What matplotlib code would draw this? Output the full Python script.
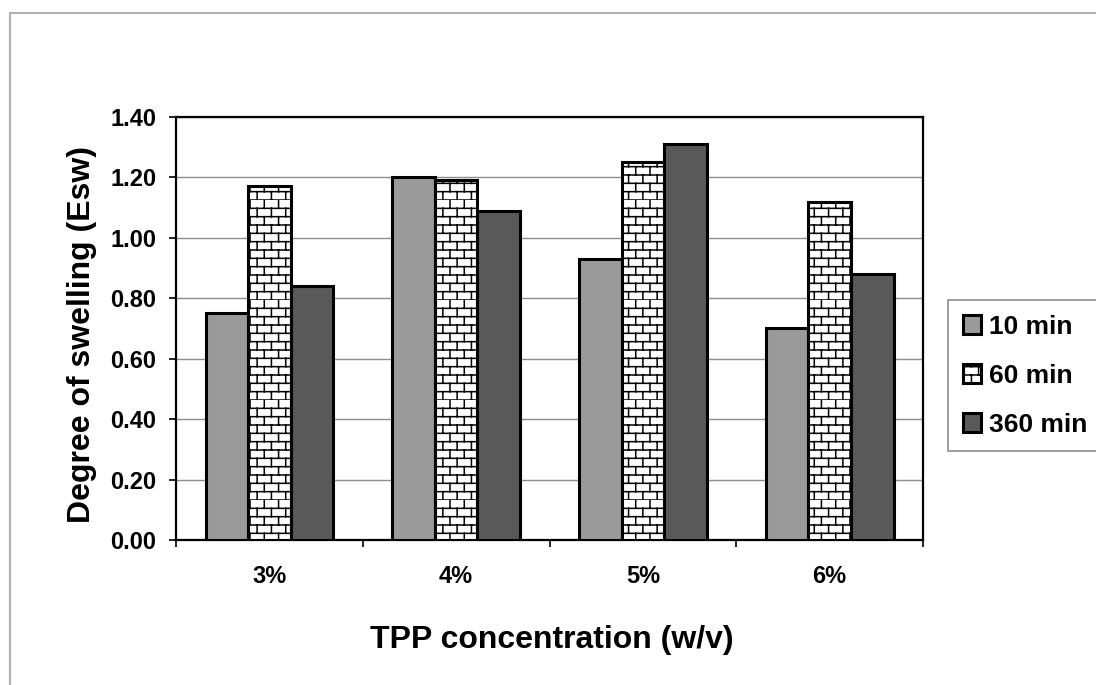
# import libraries
import warnings
import numpy as np
import matplotlib
matplotlib.use('Agg')
import matplotlib.pyplot as plt
import matplotlib.hatch as mhatch
from matplotlib.path import Path
from matplotlib.patches import Rectangle

warnings.simplefilter('ignore')

# swelling data read per TPP concentration
concentrations = ['3%', '4%', '5%', '6%']
series_names = ['10 min', '60 min', '360 min']
swell_10 = [0.75, 1.20, 0.93, 0.70]
swell_60 = [1.17, 1.19, 1.25, 1.12]
swell_360 = [0.84, 1.09, 1.31, 0.88]
y_ticks = [0.0, 0.2, 0.4, 0.6, 0.8, 1.0, 1.2, 1.4]


class BrickHatch(mhatch.HatchPatternBase):
    """running-bond brick pattern used for the 'b' hatch character"""

    def __init__(self, hatch, density):
        n = hatch.count('b')
        self.num_rows = int(n * density * 2)
        self.num_cols = int(n * density) + 1 if n else 0
        self.num_vertices = self.num_rows * 2 * (1 + self.num_cols)

    def set_vertices_and_codes(self, vertices, codes):
        h = 1.0 / self.num_rows
        w = 1.0 / self.num_cols
        k = 0
        for i in range(self.num_rows):
            y0 = i * h
            vertices[k] = (0.0, y0)
            vertices[k + 1] = (1.0, y0)
            codes[k] = Path.MOVETO
            codes[k + 1] = Path.LINETO
            k += 2
            shift = 0.5 * w if i % 2 else 0.0
            for j in range(self.num_cols):
                x = j * w + shift
                vertices[k] = (x, y0)
                vertices[k + 1] = (x, y0 + h)
                codes[k] = Path.MOVETO
                codes[k + 1] = Path.LINETO
                k += 2


mhatch._hatch_types.append(BrickHatch)

plt.rcParams['font.family'] = ['Liberation Sans', 'DejaVu Sans']
plt.rcParams['hatch.linewidth'] = 1.1

fig = plt.figure(figsize=(10.96, 6.85), dpi=100)
fig.patch.set_facecolor('white')
ax = fig.add_axes([0.1606, 0.2117, 0.6816, 0.6175])

# outer chart frame
fig.patches.append(Rectangle((10 / 1096, -0.05), 1.2, 1 - 13 / 685 + 0.05,
                             transform=fig.transFigure, fill=False,
                             edgecolor='#b0b0b0', linewidth=1.5))

x = np.arange(len(concentrations))
width = 0.228
styles = [
    dict(color='#9a9a9a', hatch=None),
    dict(color='white', hatch='b'),
    dict(color='#595959', hatch=None),
]
for i, (vals, name, st) in enumerate(zip([swell_10, swell_60, swell_360],
                                         series_names, styles)):
    ax.bar(x + (i - 1) * width, vals, width, color=st['color'],
           hatch=st['hatch'], edgecolor='black', linewidth=2.2,
           label=name, zorder=3)

# axes styling
ax.set_xlim(-0.5, len(concentrations) - 0.5)
ax.set_ylim(0, 1.4)
ax.set_yticks(y_ticks)
ax.set_yticklabels(['%.2f' % v for v in y_ticks], fontweight='bold')
ax.set_xticks(x)
ax.set_xticklabels(concentrations, fontweight='bold')
ax.set_xticks(np.arange(len(concentrations) + 1) - 0.5, minor=True)
ax.tick_params(axis='x', which='major', length=0, pad=18, labelsize=17)
ax.tick_params(axis='x', which='minor', length=5, width=1.2, direction='out')
ax.tick_params(axis='y', length=5, width=1.2, direction='out', pad=9,
               labelsize=17)
ax.grid(axis='y', color='#8c8c8c', linewidth=1.0, zorder=0)
ax.set_axisbelow(True)
for s in ax.spines.values():
    s.set_linewidth(1.6)
    s.set_color('black')

ax.set_ylabel('Degree of swelling (Esw)', fontsize=23, fontweight='bold')
ax.yaxis.set_label_coords(-0.106, 0.485)
ax.set_xlabel('TPP concentration (w/v)', fontsize=23, fontweight='bold')
ax.xaxis.set_label_coords(0.503, -0.201)

# legend on the right
leg = fig.legend(loc='upper left', bbox_to_anchor=(948 / 1096, 1 - 300 / 685),
                 prop={'size': 19, 'weight': 'bold'}, frameon=True,
                 fancybox=False, handlelength=0.7, handleheight=0.7,
                 handletextpad=0.3, labelspacing=0.95, borderpad=0.55,
                 borderaxespad=0)
leg.get_frame().set_edgecolor('#707070')
leg.get_frame().set_linewidth(1.2)

# save plot
plt.savefig('out.png', dpi=100)
